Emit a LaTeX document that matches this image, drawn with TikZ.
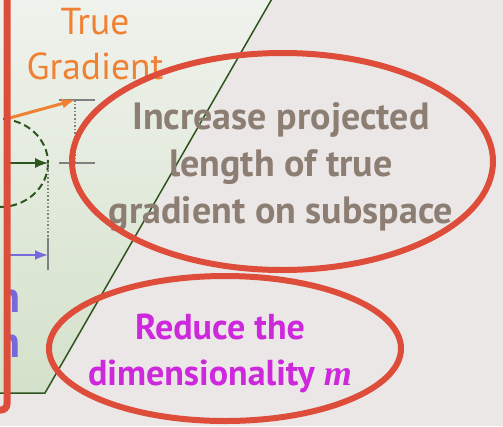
\documentclass[tikz,border=0pt]{standalone}
\usepackage{fontspec}
\setmainfont{PT Sans}
\newfontfamily\varfont{Liberation Serif}
\usetikzlibrary{arrows.meta,shapes.geometric,positioning}
\definecolor{SlideGray}{RGB}{235,231,230}
\definecolor{AreaTop}{RGB}{241,243,238}
\definecolor{AreaBottom}{RGB}{211,225,202}
\definecolor{EdgeGreen}{RGB}{45,85,30}
\definecolor{MarkRed}{RGB}{222,76,58}
\definecolor{TrueOrange}{RGB}{240,128,50}
\definecolor{NoteBrown}{RGB}{140,126,114}
\definecolor{DimMagenta}{RGB}{205,40,220}
\definecolor{ProjPurple}{RGB}{120,104,220}
\definecolor{TickGray}{RGB}{128,128,128}
\tikzset{
  ringmark/.style={draw=MarkRed,line width=6pt,ellipse,inner sep=0pt},
  notetext/.style={align=center,inner sep=0pt},
  tickline/.style={draw=TickGray,line width=2pt},
  dotline/.style={draw=TickGray,line width=1.6pt,dotted},
  vecarrow/.style={-{Latex[length=13pt,width=10pt]}},
  cutletter/.style={anchor=base east,inner sep=0pt,ProjPurple,
    font=\bfseries\fontsize{44}{44}\selectfont},
}

\begin{document}
\begin{tikzpicture}[x=1pt,y=-1pt]
  \useasboundingbox (0,0) rectangle (503,426);
  \clip (0,0) rectangle (503,426);
  \fill[SlideGray] (0,0) rectangle (503,426);
  % subspace
  \shade[top color=AreaTop,bottom color=AreaBottom]
    (-10,-10) -- (277,-10) -- (45,393) -- (-10,393) -- cycle;
  \draw[EdgeGreen,line width=1.5pt] (277,-10) -- (45,393) -- (-10,393);

  \coordinate (o1) at (6,119);
  \coordinate (g) at (75,100);
  \coordinate (o2) at (6,163);
  \coordinate (p) at (48,163);
  \coordinate (gp) at (75,163);
  \coordinate (o3) at (6,255);
  \coordinate (q) at (48,255);

  \draw[EdgeGreen,line width=2pt,dash pattern=on 7pt off 4pt] (0,163) ellipse (48 and 44);

  % ticks and guides
  \draw[tickline] ([xshift=-16pt]g) -- ([xshift=20pt]g);
  \draw[tickline] ([xshift=-16pt]gp) -- ([xshift=20pt]gp);
  \draw[tickline] ([yshift=-15pt]q) -- ([yshift=17pt]q);
  \draw[dotline] (g) -- (gp);
  \draw[dotline] (p) -- ([yshift=-15pt]q);

  \draw[vecarrow,TrueOrange,line width=3pt] (o1) -- (g);
  \draw[vecarrow,EdgeGreen,line width=1.5pt] (o2) -- (p);
  \draw[vecarrow,ProjPurple,line width=2pt] (o3) -- (q);

  % letters cut by the box edge
  \begin{scope}
    \clip (5,270) rectangle (40,380);
    \node[cutletter] (cut1) at (21,312) {n};
    \node[cutletter] (cut2) at (21,357) {n};
  \end{scope}

  \node[TrueOrange,align=center,inner sep=0pt,font=\fontsize{37.5}{45}\selectfont]
    (truegrad) at (95,44) {True\\Gradient};

  \node[notetext,NoteBrown,font=\bfseries\fontsize{38}{47}\selectfont] (increase) at (281,167)
    {Increase projected\\length of true\\gradient on subspace};
  \node[notetext,DimMagenta,font=\bfseries\fontsize{36}{46}\selectfont] (reduce) at (220,353)
    {Reduce the\\dimensionality {\varfont\itshape m}};

  % outline marks
  \draw[MarkRed,line width=7pt,rounded corners=6pt] (-60,-20) rectangle (7,410);
  \node[ringmark,minimum width=421pt,minimum height=217pt] (ringA) at (282.5,161.5) {};
  \node[ringmark,minimum width=352pt,minimum height=145pt] (ringB) at (225,348.5) {};
\end{tikzpicture}
\end{document}
